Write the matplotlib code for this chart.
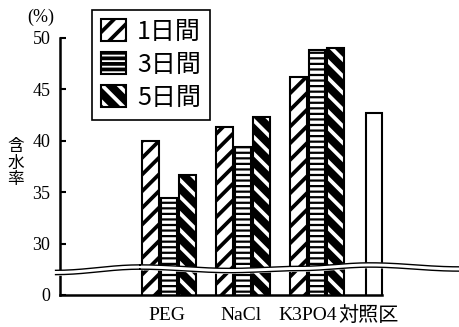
import numpy as np
import matplotlib.pyplot as plt
from matplotlib.patches import Patch
from matplotlib.legend_handler import HandlerTuple

# ---- data (broken axis: the "0" label sits where 25 would be) ----
groups = ["PEG", "NaCl", "K3PO4"]
control_label = "対照区"
day_labels = ["1日間", "3日間", "5日間"]
day1 = [40.0, 41.3, 46.2]
day3 = [34.4, 39.4, 48.8]
day5 = [36.7, 42.3, 49.0]
control_value = 42.7
ytick_vals = [25, 30, 35, 40, 45, 50]
ytick_labels = ["0", "30", "35", "40", "45", "50"]

# wavy break band (centre line), data coords
band_x = [-1.53, -0.39, 0.83, 1.77, 2.72, 3.92]
band_y = [27.19, 27.72, 27.38, 27.58, 27.92, 27.53]

plt.rcParams["hatch.linewidth"] = 2.7
serif = ["Liberation Serif", "DejaVu Serif"]
jp = ["Noto Sans CJK JP", "DejaVu Sans"]

fig = plt.figure(figsize=(4.59, 3.27), dpi=100)
ax = fig.add_axes([0.1307, 0.0979, 0.8693, 0.7859])

x = np.arange(len(groups))
ctrl_x = 2.77
off, w = 0.25, 0.223

ax.bar(x - off, day1, w, facecolor="white", edgecolor="black",
       hatch="//", linewidth=1.5, zorder=2)
b3 = ax.bar(x, day3, w, facecolor="white", edgecolor="black",
            hatch="---", linewidth=1.5, zorder=2)
for p in b3:
    if hasattr(p, "set_hatch_linewidth"):
        p.set_hatch_linewidth(1.6)
# 5 days: white stripes on black, black outline on top
ax.bar(x + off, day5, w, facecolor="black", edgecolor="white",
       hatch="\\\\", linewidth=0, zorder=2)
ax.bar(x + off, day5, w, fill=False, edgecolor="black", linewidth=1.5, zorder=3)
ax.bar([ctrl_x], [control_value], w, facecolor="white", edgecolor="black",
       linewidth=1.5, zorder=2)

ax.set_xlim(-1.47, 3.92)
ax.set_ylim(25, 50)

for s in ["top", "right"]:
    ax.spines[s].set_visible(False)
ax.spines["left"].set_linewidth(1.8)
ax.spines["bottom"].set_linewidth(1.8)
ax.spines["bottom"].set_bounds(-1.47, ctrl_x + w / 2)

ax.set_yticks(ytick_vals)
ax.set_yticklabels(ytick_labels, fontfamily=serif, fontsize=13)
ax.tick_params(axis="y", direction="in", length=4, width=1.5, pad=7)
ax.set_xticks([])

# category labels under the axis
label_x = [-0.03, 0.97, 1.87, 2.7]
for lx, lab in zip(label_x, groups + [control_label]):
    if lab == control_label:
        ax.text(lx, 24.0, lab, ha="center", va="top", fontsize=14.5,
                fontfamily=jp, clip_on=False)
    else:
        ax.text(lx, 23.85, lab, ha="center", va="top", fontsize=14,
                fontfamily=serif, clip_on=False)

# break band
xs, ys = [], []
for i in range(len(band_x) - 1):
    t = np.linspace(0, 1, 30)
    s = (1 - np.cos(np.pi * t)) / 2
    xs.append(band_x[i] + (band_x[i + 1] - band_x[i]) * t)
    ys.append(band_y[i] + (band_y[i + 1] - band_y[i]) * s)
xs = np.concatenate(xs)
ys = np.concatenate(ys)
half = 0.21
ax.fill_between(xs, ys - half, ys + half, color="white", zorder=5, clip_on=False)
ax.plot(xs, ys + half, color="black", lw=1.0, zorder=6, clip_on=False)
ax.plot(xs, ys - half, color="black", lw=1.0, zorder=6, clip_on=False)

# axis annotations
fig.text(41 / 459, 1 - 17 / 327, "(%)", fontfamily=serif, fontsize=13,
         ha="center", va="center")
fig.text(16 / 459, 1 - 163 / 327, "含\n水\n率", fontfamily=jp, fontsize=12,
         ha="center", va="center", linespacing=0.95)

# legend
h1 = Patch(facecolor="white", edgecolor="black", hatch="//", linewidth=1.5)
h3 = Patch(facecolor="white", edgecolor="black", hatch="---", linewidth=1.5)
h5 = (Patch(facecolor="black", edgecolor="white", hatch="\\\\", linewidth=0),
      Patch(fill=False, edgecolor="black", linewidth=1.5))
leg = fig.legend([h1, h3, h5], day_labels, loc="upper left",
                 bbox_to_anchor=(92 / 459, 1 - 10 / 327),
                 bbox_transform=fig.transFigure, borderaxespad=0,
                 prop={"family": jp, "size": 18}, fancybox=False,
                 edgecolor="black", framealpha=1, handlelength=1.0,
                 handleheight=1.0, handletextpad=0.45, labelspacing=0.28,
                 borderpad=0.35,
                 handler_map={tuple: HandlerTuple(ndivide=1, pad=0)})
leg.get_frame().set_linewidth(1.2)

fig.savefig("out.png", dpi=100)
